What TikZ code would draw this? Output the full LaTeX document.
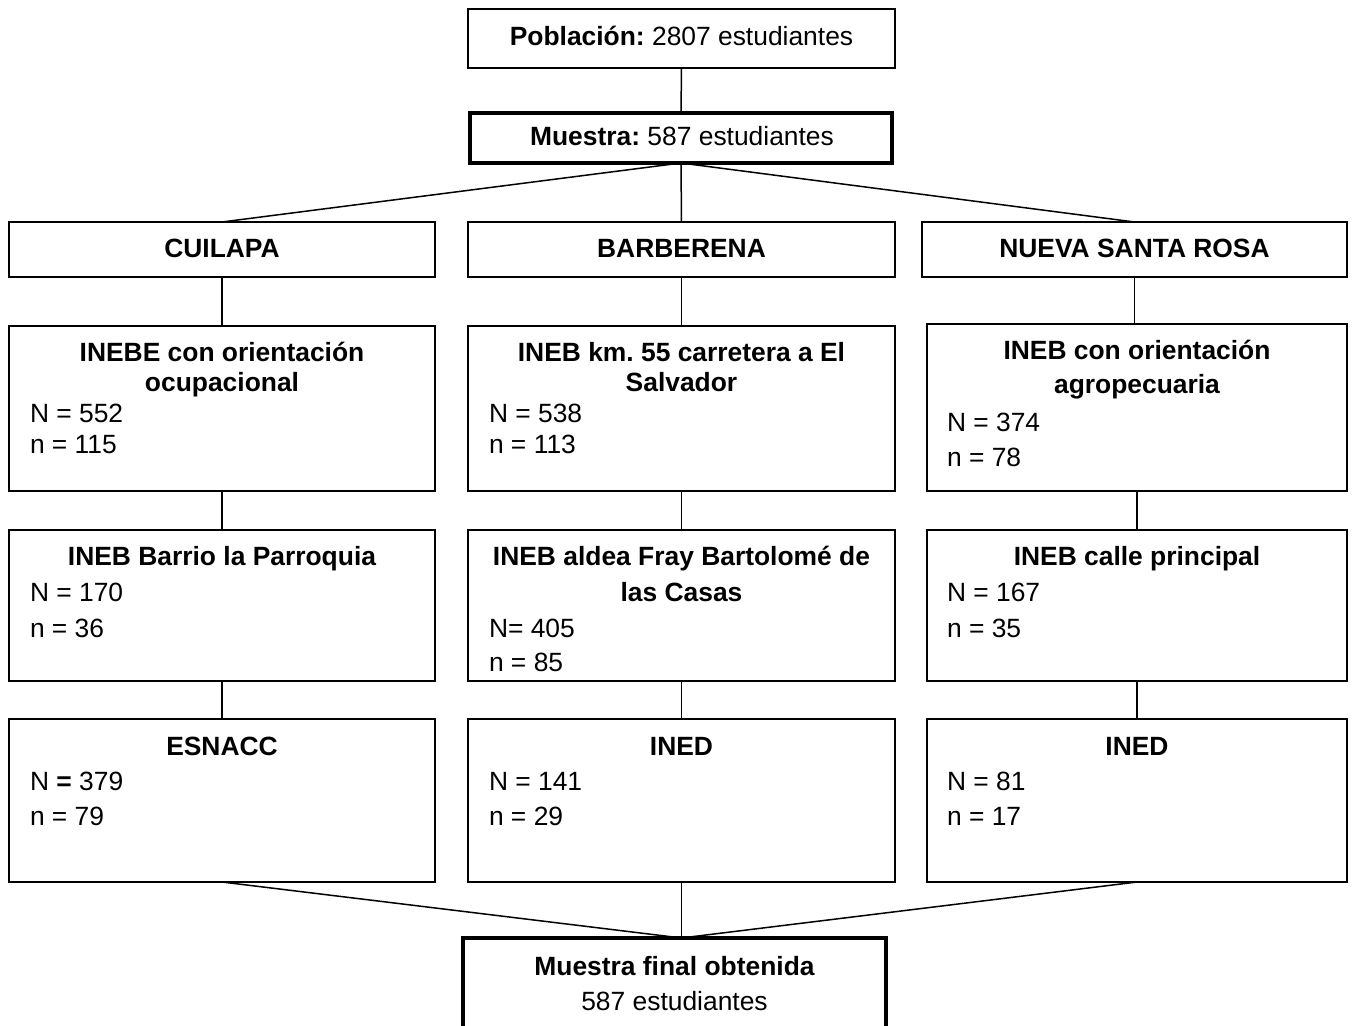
\documentclass[tikz,border=0pt]{standalone}
\usepackage{fontspec}
\setmainfont{Liberation Sans}
\frenchspacing
\begin{document}
\begin{tikzpicture}[x=0.5pt,y=-0.5pt,
  thinbox/.style={draw,line width=1pt,rectangle,inner sep=0pt,outer sep=0pt},
  thickbox/.style={draw,line width=2pt,rectangle,inner sep=0pt,outer sep=0pt},
  txt/.style={inner sep=0pt,outer sep=0pt,font=\fontsize{13.2pt}{15pt}\selectfont},
  ttl/.style={txt,anchor=base,font=\fontsize{13.2pt}{15pt}\selectfont\bfseries},
  val/.style={txt,anchor=base west},
  link/.style={line width=0.75pt}]
\clip (0,0) rectangle (1355,1026);
\fill[white] (0,0) rectangle (1355,1026);

% boxes
\node[thinbox,minimum width=213.5pt,minimum height=29.5pt] (pob) at (681.5,38.5) {};
\node[thickbox,minimum width=211pt,minimum height=25pt] (mue) at (681,138) {};
\node[thinbox,minimum width=213pt,minimum height=27.5pt] (cui) at (222,249.5) {};
\node[thinbox,minimum width=213.5pt,minimum height=27.5pt] (bar) at (681.5,249.5) {};
\node[thinbox,minimum width=212.5pt,minimum height=27.5pt] (nsr) at (1134.5,249.5) {};

\node[thinbox,minimum width=213pt,minimum height=82.5pt] (c1) at (222,408.5) {};
\node[thinbox,minimum width=213.5pt,minimum height=82.5pt] (b1) at (681.5,408.5) {};
\node[thinbox,minimum width=210pt,minimum height=83.5pt] (r1) at (1137,407.5) {};

\node[thinbox,minimum width=213pt,minimum height=75.5pt] (c2) at (222,605.5) {};
\node[thinbox,minimum width=213.5pt,minimum height=75.5pt] (b2) at (681.5,605.5) {};
\node[thinbox,minimum width=210pt,minimum height=75.5pt] (r2) at (1137,605.5) {};

\node[thinbox,minimum width=213pt,minimum height=81.5pt] (c3) at (222,800.5) {};
\node[thinbox,minimum width=213.5pt,minimum height=81.5pt] (b3) at (681.5,800.5) {};
\node[thinbox,minimum width=210pt,minimum height=81.5pt] (r3) at (1137,800.5) {};

\node[thickbox,minimum width=211.5pt,minimum height=81pt] (fin) at (674.5,1019) {};

% connectors
\draw[link] (pob.south) -- (mue.north);
\draw[link] (mue.south) -- (cui.north);
\draw[link] (mue.south) -- (bar.north);
\draw[link] (mue.south) -- (nsr.north);
\draw[link] (cui.south) -- (c1.north);
\draw[link] (bar.south) -- (b1.north);
\draw[link] (nsr.south) -- (r1.north -| nsr.south);
\draw[link] (c1.south) -- (c2.north);
\draw[link] (b1.south) -- (b2.north);
\draw[link] (r1.south) -- (r2.north);
\draw[link] (c2.south) -- (c3.north);
\draw[link] (b2.south) -- (b3.north);
\draw[link] (r2.south) -- (r3.north);
\coordinate (finjoin) at (b3.south |- fin.north);
\draw[link] (c3.south) -- (finjoin);
\draw[link] (b3.south) -- (finjoin);
\draw[link] (r3.south) -- (finjoin);

% texts
\node[txt,anchor=base] (tpob) at (681.5,46) {\textbf{Población:} 2807 estudiantes};
\node[txt,anchor=base] (tmue) at (682,146) {\textbf{Muestra:} 587 estudiantes};
\node[ttl] (tcui) at (222,258) {CUILAPA};
\node[ttl] (tbar) at (681.5,258) {BARBERENA};
\node[ttl] (tnsr) at (1134.5,258) {NUEVA SANTA ROSA};

\node[ttl] (c1a) at (222,362) {INEBE con orientación};
\node[ttl] (c1b) at (222,392) {ocupacional};
\node[val] (c1N) at (30,423) {N = 552};
\node[val] (c1n) at (30,454) {n = 115};

\node[ttl] (b1a) at (681.5,362) {INEB km. 55 carretera a El};
\node[ttl] (b1b) at (681.5,392) {Salvador};
\node[val] (b1N) at (489,423) {N = 538};
\node[val] (b1n) at (489,454) {n = 113};

\node[ttl] (r1a) at (1137,360) {INEB con orientación};
\node[ttl] (r1b) at (1137,394) {agropecuaria};
\node[val] (r1N) at (947,432) {N = 374};
\node[val] (r1n) at (947,467) {n = 78};

\node[ttl] (c2a) at (222,566) {INEB Barrio la Parroquia};
\node[val] (c2N) at (30,601) {N = 170};
\node[val] (c2n) at (30,637) {n = 36};

\node[ttl] (b2a) at (681.5,566) {INEB aldea Fray Bartolomé de};
\node[ttl] (b2b) at (681.5,601) {las Casas};
\node[val] (b2N) at (489,637) {N= 405};
\node[val] (b2n) at (489,671) {n = 85};

\node[ttl] (r2a) at (1137,566) {INEB calle principal};
\node[val] (r2N) at (947,601) {N = 167};
\node[val] (r2n) at (947,637) {n = 35};

\node[ttl] (c3a) at (222,755) {ESNACC};
\node[val] (c3N) at (30,790) {N \textbf{=} 379};
\node[val] (c3n) at (30,825) {n = 79};

\node[ttl] (b3a) at (681.5,755) {INED};
\node[val] (b3N) at (489,790) {N = 141};
\node[val] (b3n) at (489,825) {n = 29};

\node[ttl] (r3a) at (1137,755) {INED};
\node[val] (r3N) at (947,790) {N = 81};
\node[val] (r3n) at (947,825) {n = 17};

\node[ttl] (fina) at (674.5,975) {Muestra final obtenida};
\node[txt,anchor=base] (finb) at (674.5,1010) {587 estudiantes};
\end{tikzpicture}
\end{document}
